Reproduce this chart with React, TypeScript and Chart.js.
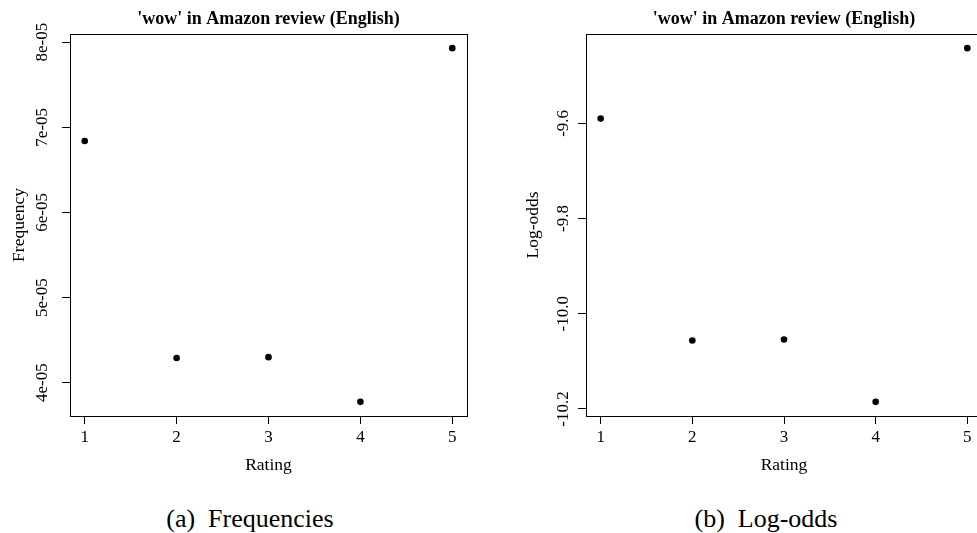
import React, { useEffect, useRef } from "react";
import { Chart, registerables } from "chart.js";

Chart.register(...registerables);

// ---- data ----
const ratings = [1, 2, 3, 4, 5];
const frequencies = [6.84e-5, 4.29e-5, 4.3e-5, 3.775e-5, 7.93e-5];
const logOdds = [-9.59, -10.056, -10.054, -10.185, -9.442];

const xTickValues = [1, 2, 3, 4, 5];
const xTickLabels = ["1", "2", "3", "4", "5"];
const freqTickValues = [4e-5, 5e-5, 6e-5, 7e-5, 8e-5];
const freqTickLabels = ["4e-05", "5e-05", "6e-05", "7e-05", "8e-05"];
const logTickValues = [-10.2, -10.0, -9.8, -9.6];
const logTickLabels = ["-10.2", "-10.0", "-9.8", "-9.6"];

const chartTitle = "'wow' in Amazon review (English)";
const xTitle = "Rating";
const captions = ["(a)\u2002Frequencies", "(b)\u2002Log-odds"];

const SERIF = "'Liberation Serif', 'DejaVu Serif', serif";

function rRange(vals: number[]) {
  const lo = Math.min(...vals);
  const hi = Math.max(...vals);
  const pad = (hi - lo) * 0.04;
  return [lo - pad, hi + pad];
}

const framePlugin = {
  id: "frame",
  afterDraw(chart: any) {
    const { ctx, chartArea: a } = chart;
    ctx.save();
    ctx.strokeStyle = "#000";
    ctx.lineWidth = 1;
    ctx.strokeRect(
      Math.round(a.left) + 0.5,
      Math.round(a.top) + 0.5,
      Math.round(a.right) - Math.round(a.left),
      Math.round(a.bottom) - Math.round(a.top)
    );
    ctx.restore();
  },
};

type PanelProps = {
  values: number[];
  yTitle: string;
  yTickValues: number[];
  yTickLabels: string[];
  yAxisWidth: number;
  yTickPadding: number;
  yTitlePadding: number;
  rightPad: number;
  width: number;
  height: number;
};

function Panel(p: PanelProps) {
  const ref = useRef<HTMLCanvasElement | null>(null);
  useEffect(() => {
    if (!ref.current) return;
    const [ymin, ymax] = rRange(p.values);
    const [xmin, xmax] = rRange(ratings);
    const tickFont = { family: SERIF, size: 17 };
    const labFont = { family: SERIF, size: 17.5 };
    const grid = {
      drawOnChartArea: false,
      drawTicks: true,
      tickLength: 8,
      color: "#000",
      lineWidth: 1,
    };
    const chart = new Chart(ref.current, {
      type: "scatter",
      data: {
        datasets: [
          {
            data: ratings.map((r, i) => ({ x: r, y: p.values[i] })),
            pointRadius: 3.3,
            pointHoverRadius: 3.3,
            pointBackgroundColor: "#000",
            pointBorderWidth: 0,
            showLine: false,
          },
        ],
      },
      options: {
        animation: false,
        responsive: false,
        devicePixelRatio: 1,
        events: [],
        layout: { padding: { left: 0, right: p.rightPad, top: 0, bottom: 0 } },
        plugins: {
          legend: { display: false },
          tooltip: { enabled: false },
          title: {
            display: true,
            text: chartTitle,
            fullSize: false,
            color: "#000",
            font: { family: SERIF, size: 18, weight: "bold" },
            padding: { top: 8.4, bottom: 4 },
          },
        },
        scales: {
          x: {
            type: "linear",
            min: xmin,
            max: xmax,
            afterBuildTicks: (s: any) => {
              s.ticks = xTickValues.map((v) => ({ value: v }));
            },
            afterFit: (s: any) => {
              s.height = 64;
            },
            ticks: {
              autoSkip: false,
              maxRotation: 0,
              color: "#000",
              font: tickFont,
              padding: 3,
              callback: (v: any) => xTickLabels[xTickValues.indexOf(v)],
            },
            grid,
            border: { display: false },
            title: {
              display: true,
              text: xTitle,
              color: "#000",
              font: labFont,
              padding: { top: 0, bottom: 4.5 },
            },
          },
          y: {
            type: "linear",
            min: ymin,
            max: ymax,
            afterBuildTicks: (s: any) => {
              s.ticks = p.yTickValues.map((v) => ({ value: v }));
            },
            afterFit: (s: any) => {
              s.width = p.yAxisWidth;
            },
            ticks: {
              autoSkip: false,
              minRotation: 90,
              maxRotation: 90,
              crossAlign: "center",
              color: "#000",
              font: tickFont,
              padding: p.yTickPadding,
              callback: (v: any) => p.yTickLabels[p.yTickValues.indexOf(v)],
            },
            grid,
            border: { display: false },
            title: {
              display: true,
              text: p.yTitle,
              color: "#000",
              font: labFont,
              padding: { top: p.yTitlePadding, bottom: 0 },
            },
          },
        },
      } as any,
      plugins: [framePlugin],
    });
    return () => chart.destroy();
  }, []);
  return <canvas ref={ref} width={p.width} height={p.height} style={{ display: "block" }} />;
}

export default function App() {
  const captionStyle: React.CSSProperties = {
    position: "absolute",
    top: 506,
    width: 500,
    textAlign: "center",
    fontFamily: SERIF,
    fontSize: 26,
    lineHeight: "26px",
    color: "#000",
    whiteSpace: "pre",
  };
  return (
    <div
      style={{
        position: "absolute",
        left: 0,
        top: 0,
        width: 977,
        height: 533,
        overflow: "hidden",
        background: "#fff",
      }}
    >
      <div style={{ position: "absolute", left: 0, top: 0 }}>
        <Panel
          values={frequencies}
          yTitle="Frequency"
          yTickValues={freqTickValues}
          yTickLabels={freqTickLabels}
          yAxisWidth={70}
          yTickPadding={0}
          yTitlePadding={9}
          rightPad={33}
          width={500}
          height={480}
        />
      </div>
      <div style={{ position: "absolute", left: 500, top: 0 }}>
        <Panel
          values={logOdds}
          yTitle="Log-odds"
          yTickValues={logTickValues}
          yTickLabels={logTickLabels}
          yAxisWidth={86}
          yTickPadding={-3}
          yTitlePadding={23}
          rightPad={18}
          width={500}
          height={480}
        />
      </div>
      <div style={{ ...captionStyle, left: 0 }}>{captions[0]}</div>
      <div style={{ ...captionStyle, left: 516 }}>{captions[1]}</div>
    </div>
  );
}
